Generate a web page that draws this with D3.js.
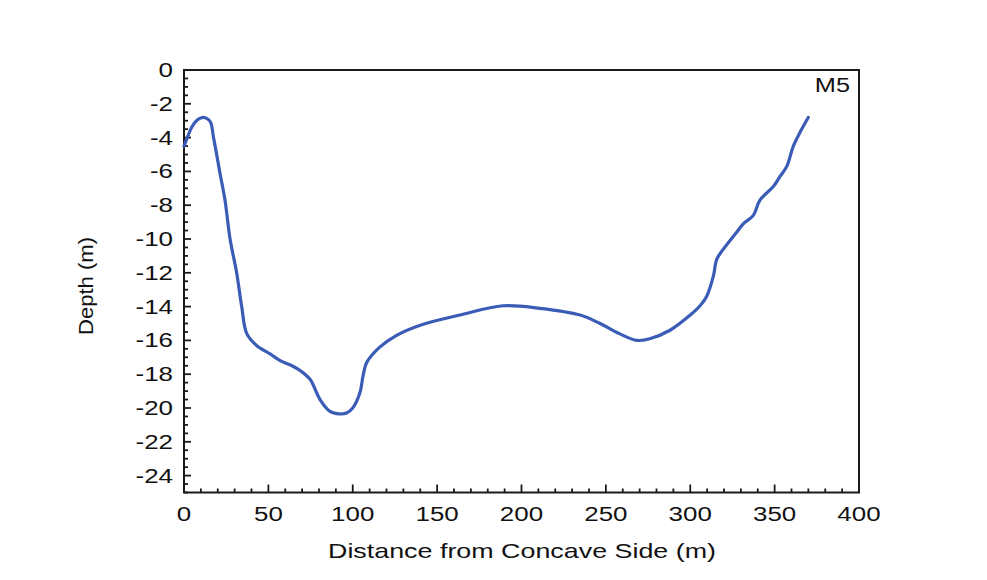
<!DOCTYPE html>
<html>
<head>
<meta charset="utf-8">
<script src="https://cdn.jsdelivr.net/npm/d3@7"></script>
<style>
  html, body { margin: 0; padding: 0; background: #ffffff; }
  svg { display: block; }
  text { font-family: "Liberation Sans", Arial, sans-serif; fill: #111; }
</style>
</head>
<body>
<script>
// Cross-section M5: bed depth along the transect
const distances = [0, 2, 4.5, 8, 11.4, 14, 15.8, 17.5, 19, 21.3, 24.3, 27.3, 31.2, 34.2, 37.2, 43, 51, 57, 64, 69,
  74.7, 80.6, 86.5, 92, 96.4, 100, 102.3, 104.5, 106.3, 108.3, 116, 126, 140, 163.6, 189, 211, 234.7, 246.5, 258,
  268.4, 276, 288, 300, 305.8, 309.7, 313.7, 315.7, 319.6, 327.5, 331.4, 337.4, 341.3, 349.2, 353.2, 357.2, 361.1,
  365, 370];
const depths = [-4.5, -4.0, -3.4, -2.95, -2.8, -2.9, -3.1, -4.0, -4.8, -6.1, -7.7, -10.0, -12.0, -14.0, -15.6, -16.3,
  -16.8, -17.2, -17.5, -17.8, -18.3, -19.5, -20.2, -20.35, -20.3, -20.0, -19.6, -19.0, -18.0, -17.3, -16.4, -15.7,
  -15.1, -14.5, -13.95, -14.1, -14.5, -15.0, -15.6, -16.0, -15.9, -15.4, -14.5, -13.95, -13.4, -12.2, -11.2, -10.6,
  -9.6, -9.1, -8.6, -7.7, -6.9, -6.3, -5.7, -4.5, -3.7, -2.8];

const xMajorTicks = [0, 50, 100, 150, 200, 250, 300, 350, 400];
const yMajorTicks = [0, -2, -4, -6, -8, -10, -12, -14, -16, -18, -20, -22, -24];
const sectionLabel = "M5";
const xTitle = "Distance from Concave Side (m)";
const yTitle = "Depth (m)";

const W = 987, H = 580;
const plot = { left: 184, top: 70, right: 859, bottom: 492.5 };

const svg = d3.select("body").append("svg").attr("width", W).attr("height", H);

const x = d3.scaleLinear().domain([0, 400]).range([plot.left, plot.right]);
const y = d3.scaleLinear().domain([0, -25]).range([plot.top, plot.bottom]);

const axisColor = "#1a1a1a";
const stretch = 1.33; // wide tick lettering

// frame
svg.append("rect")
  .attr("x", plot.left).attr("y", plot.top)
  .attr("width", plot.right - plot.left).attr("height", plot.bottom - plot.top)
  .attr("fill", "none").attr("stroke", axisColor).attr("stroke-width", 2);

// x ticks (pointing into the plot)
const xMinor = d3.range(0, 401, 10);
svg.append("g").selectAll("line").data(xMinor).join("line")
  .attr("x1", d => x(d)).attr("x2", d => x(d))
  .attr("y1", plot.bottom).attr("y2", d => plot.bottom - (d % 50 === 0 ? 8 : 4))
  .attr("stroke", axisColor).attr("stroke-width", 1.8);

svg.append("g").selectAll("text").data(xMajorTicks).join("text")
  .attr("transform", d => `translate(${x(d)},520.5) scale(${stretch},1)`)
  .attr("text-anchor", "middle")
  .style("font-size", "19.5px")
  .text(d => d);

// y ticks (pointing into the plot)
const yMinor = d3.range(0, 51).map(i => -i * 0.5);
svg.append("g").selectAll("line").data(yMinor).join("line")
  .attr("y1", d => y(d)).attr("y2", d => y(d))
  .attr("x1", plot.left).attr("x2", d => plot.left + (Math.abs(d) % 2 === 0 ? 7 : 4))
  .attr("stroke", axisColor).attr("stroke-width", 1.8);

svg.append("g").selectAll("text").data(yMajorTicks).join("text")
  .attr("transform", d => `translate(173,${y(d) + 7}) scale(${stretch},1)`)
  .attr("text-anchor", "end")
  .style("font-size", "19.5px")
  .text(d => d === 0 ? "0" : "-" + Math.abs(d));

// profile line
const line = d3.line()
  .x((d, i) => x(distances[i]))
  .y(d => y(d))
  .curve(d3.curveCatmullRom.alpha(0.5));

svg.append("path")
  .datum(depths)
  .attr("d", line)
  .attr("fill", "none")
  .attr("stroke", "#3b5cb6")
  .attr("stroke-width", 3.2)
  .attr("stroke-linejoin", "round")
  .attr("stroke-linecap", "round");

// section label
svg.append("text")
  .attr("transform", `translate(850,92) scale(1.3,1)`)
  .attr("text-anchor", "end")
  .style("font-size", "19.5px")
  .text(sectionLabel);

// axis titles
svg.append("text")
  .attr("x", 328).attr("y", 558)
  .attr("textLength", 388).attr("lengthAdjust", "spacingAndGlyphs")
  .style("font-size", "21px")
  .text(xTitle);

svg.append("text")
  .attr("transform", "translate(93,335) rotate(-90)")
  .attr("textLength", 98).attr("lengthAdjust", "spacingAndGlyphs")
  .style("font-size", "19.5px")
  .text(yTitle);
</script>
</body>
</html>
